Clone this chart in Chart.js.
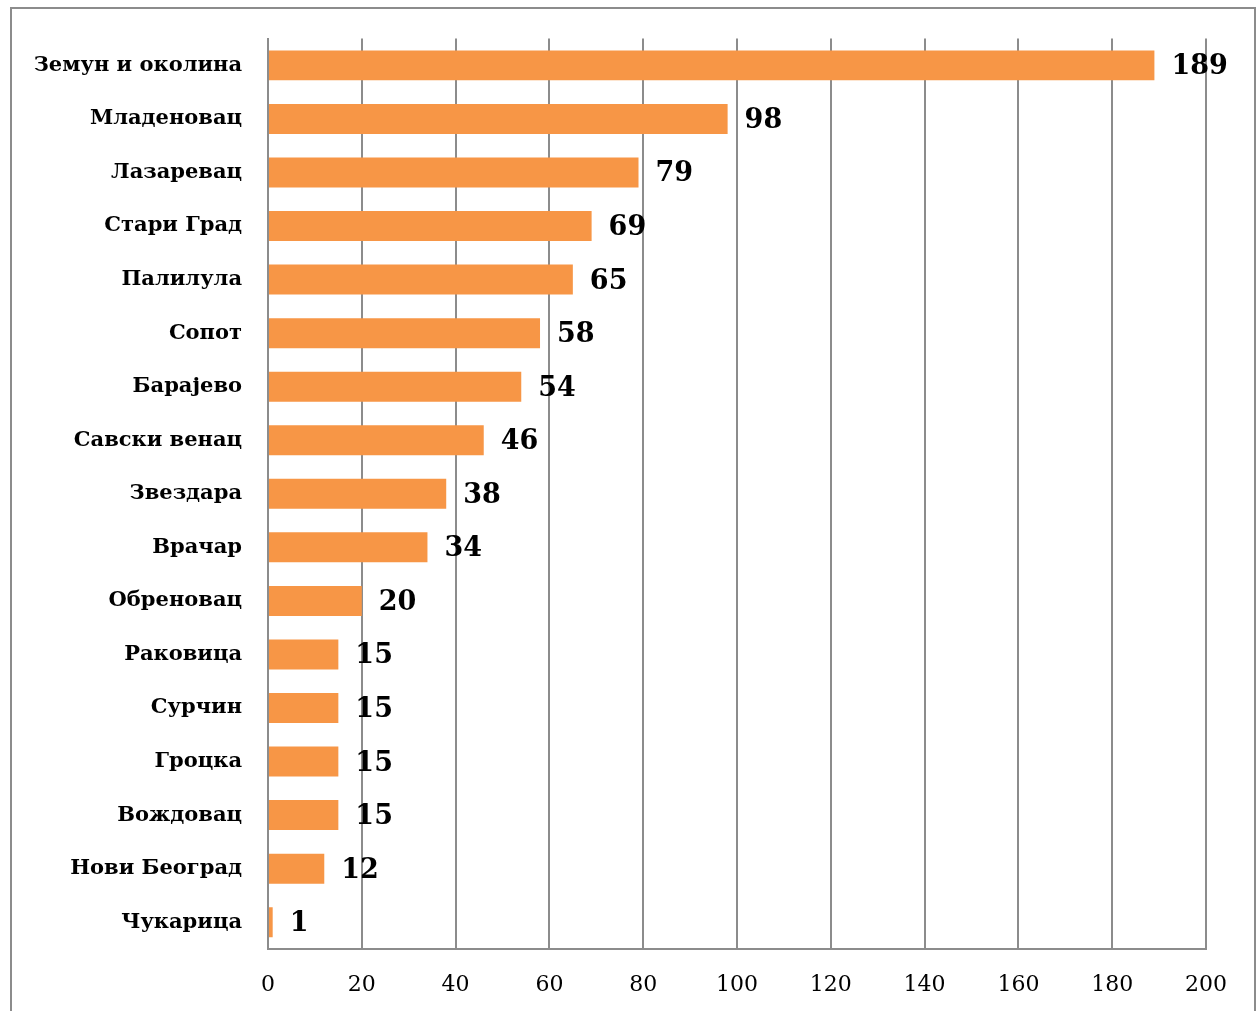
<!DOCTYPE html>
<html>
<head>
<meta charset="utf-8">
<script src="https://cdn.jsdelivr.net/npm/chart.js@4.4.0/dist/chart.umd.min.js"></script>
<style>
  html, body { margin: 0; padding: 0; background: #fff; }
  #wrap { position: relative; width: 1257px; height: 1011px; }
</style>
</head>
<body>
<div id="wrap"><canvas id="chart" width="1257" height="1011"></canvas></div>
<script>
// municipalities, top to bottom
const categories = ['Земун и околина', 'Младеновац', 'Лазаревац', 'Стари Град', 'Палилула',
    'Сопот', 'Барајево', 'Савски венац', 'Звездара', 'Врачар', 'Обреновац', 'Раковица',
    'Сурчин', 'Гроцка', 'Вождовац', 'Нови Београд', 'Чукарица'];
const counts = [189, 98, 79, 69, 65, 58, 54, 46, 38, 34, 20, 15, 15, 15, 15, 12, 1];
const xTicks = [0, 20, 40, 60, 80, 100, 120, 140, 160, 180, 200];

const serif = "'DejaVu Serif', 'Liberation Serif', serif";

// outer frame (open at the bottom)
const framePlugin = {
    id: 'frame',
    beforeDraw(chart) {
        const ctx = chart.ctx;
        ctx.save();
        ctx.strokeStyle = '#8c8c8c';
        ctx.lineWidth = 2;
        ctx.beginPath();
        ctx.moveTo(11, 1011);
        ctx.lineTo(11, 8);
        ctx.lineTo(1255, 8);
        ctx.lineTo(1255, 1011);
        ctx.stroke();
        ctx.restore();
    }
};

// value labels next to each bar
const valueLabels = {
    id: 'valueLabels',
    afterDatasetsDraw(chart) {
        const ctx = chart.ctx;
        const meta = chart.getDatasetMeta(0);
        ctx.save();
        ctx.font = 'bold 27px ' + serif;
        ctx.fillStyle = '#000';
        ctx.textAlign = 'left';
        ctx.textBaseline = 'middle';
        meta.data.forEach((bar, i) => {
            ctx.fillText(String(counts[i]), bar.x + 17, bar.y + 2);
        });
        ctx.restore();
    }
};

new Chart(document.getElementById('chart'), {
    type: 'bar',
    data: {
        labels: categories,
        datasets: [{
            data: counts,
            backgroundColor: '#F79646',
            borderWidth: 0,
            categoryPercentage: 1,
            barPercentage: 0.56
        }]
    },
    options: {
        indexAxis: 'y',
        responsive: false,
        animation: false,
        layout: { padding: { top: 35, right: 51, left: 0, bottom: 0 } },
        plugins: {
            legend: { display: false },
            tooltip: { enabled: false }
        },
        scales: {
            x: {
                min: 0,
                max: 200,
                afterBuildTicks(scale) {
                    scale.ticks = xTicks.map(v => ({ value: v }));
                },
                afterFit(scale) { scale.height = 62; },
                grid: { color: '#8c8c8c', lineWidth: 2, drawTicks: false },
                border: { color: '#8c8c8c', width: 2 },
                ticks: {
                    color: '#000',
                    padding: 23,
                    font: { family: serif, size: 22 }
                }
            },
            y: {
                afterFit(scale) { scale.width = 268; },
                grid: { display: false, drawTicks: false },
                border: { color: '#8c8c8c', width: 2 },
                ticks: {
                    color: '#000',
                    padding: 26,
                    font: { family: serif, size: 21, weight: 'bold' }
                }
            }
        }
    },
    plugins: [framePlugin, valueLabels]
});
</script>
</body>
</html>
